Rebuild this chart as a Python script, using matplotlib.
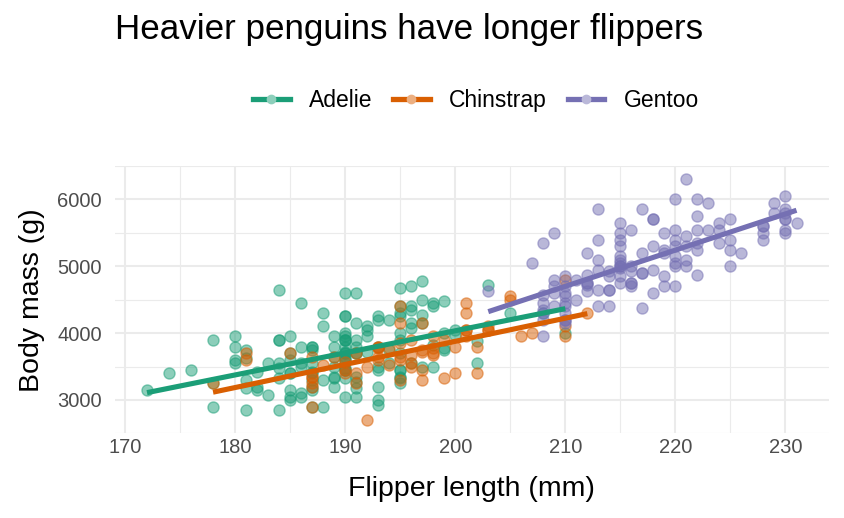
import numpy as np
import matplotlib
matplotlib.use("Agg")
import matplotlib.pyplot as plt
from matplotlib.lines import Line2D
from matplotlib.colors import to_rgb

plt.rcParams['font.family'] = ['Liberation Sans', 'DejaVu Sans']

species = ["Adelie", "Chinstrap", "Gentoo"]
colors = ["#1B9E77", "#D95F02", "#7570B3"]

adelie_flipper = [181,186,195,193,190,181,195,182,191,198,185,195,197,184,194,174,
                  180,189,185,180,187,183,187,172,180,178,178,188,184,195,196,190,180,181,184,182,
                  195,186,196,185,190,182,190,191,186,188,190,200,187,191,186,193,181,194,185,
                  195,185,192,184,192,195,188,190,198,190,190,196,197,190,195,191,184,187,195,189,
                  196,187,193,191,194,190,189,189,190,202,205,185,186,187,208,190,196,178,192,192,
                  203,183,190,193,184,199,190,181,197,198,191,193,197,191,196,188,199,189,189,187,
                  198,176,202,186,199,191,195,191,210,190,197,193,199,187,190,191,200,185,193,187,
                  190,185,190,193,189,190,184,195,187,195,190]
adelie_mass = [3750,3800,3250,3450,3650,3625,4675,3200,3800,4400,3700,3450,4500,3325,4200,3400,
               3600,3800,3950,3800,3800,3550,3200,3150,3950,3250,3900,3300,3900,3325,4150,3950,3550,3300,4650,3150,
               3900,3100,4400,3000,4600,3425,3450,4150,3500,4300,3450,4050,2900,3700,3550,3800,2850,3750,3150,
               4400,3600,4050,2850,3950,3350,4100,3050,4450,3600,3900,3550,4150,3700,4250,3700,3900,3550,4000,3200,
               4700,3800,4200,3350,3550,3800,3500,3950,3600,3550,4300,3400,4450,3300,4300,3700,4350,2900,4100,3725,
               4725,3075,4250,2925,3550,3750,3900,3175,4775,3825,4600,3200,4275,3900,4075,2900,3775,3350,3325,3150,
               3500,3450,3875,3050,4000,3275,4300,3050,4000,3325,3500,3500,4475,3425,3900,3175,3975,3400,4250,3400,
               3475,3050,3725,3000,3650,4250,3475,3450,3750,3700,4000]

chinstrap_flipper = [192,196,193,188,197,198,178,197,195,198,193,194,185,201,190,201,197,181,190,195,
                     181,191,187,193,195,197,200,200,191,205,187,201,187,203,195,199,195,210,192,205,
                     210,187,196,196,196,201,190,212,187,198,199,201,193,203,187,197,191,203,202,194,
                     206,189,195,207,202,193,210,198]
chinstrap_mass = [3500,3900,3650,3525,3725,3950,3250,3750,4150,3700,3800,3775,3700,4050,3575,4050,3300,3700,3450,4400,
                  3600,3400,2900,3800,3300,4150,3400,3800,3700,4550,3200,4300,3350,4100,3600,3900,3850,4800,2700,4500,
                  3950,3650,3550,3500,3675,4450,3400,4300,3250,3675,3325,3950,3600,4050,3350,3450,3250,4050,3800,3525,
                  3950,3650,3650,4000,3400,3775,4100,3775]

gentoo_flipper = [211,230,210,218,215,210,211,219,209,215,214,216,214,213,210,217,210,221,209,222,
                  218,215,213,215,215,215,215,210,220,222,209,207,230,220,220,213,219,208,208,
                  208,225,210,216,222,217,210,225,213,215,210,220,210,225,217,220,208,220,208,224,
                  208,221,214,231,219,230,229,220,223,216,221,221,217,216,230,209,220,215,223,
                  212,221,212,224,212,228,218,218,212,230,218,228,212,224,214,226,216,222,203,225,
                  219,228,215,228,215,210,219,208,209,216,229,213,230,217,230,222,214,215,
                  222,212,213]
gentoo_mass = [4500,5700,4450,5700,5400,4550,4800,5200,4400,5150,4650,5550,4650,5850,4200,5850,4150,6300,4800,5350,
               5700,5000,4400,5050,5000,5100,5650,4600,5550,5250,4700,5050,6050,5150,5400,4950,5250,4350,5350,
               3950,5700,4300,4750,5550,4900,4200,5400,5100,5300,4850,5300,4400,5000,4900,5050,4300,5000,4450,5550,
               4200,5300,4400,5650,4700,5700,5800,4700,5550,4750,5000,5100,5200,4700,5800,4600,6000,4750,5950,
               4625,5450,4725,5350,4750,5600,4600,5300,4875,5550,4950,5400,4750,5650,4850,5200,4925,4875,4625,5250,
               4850,5600,4975,5500,5500,4700,5500,4575,5500,5000,5950,4650,5500,4375,5850,6000,4925,4850,
               5750,5200,5400]

x_ticks = [170, 180, 190, 200, 210, 220, 230]
y_ticks = [3000, 4000, 5000, 6000]

data = [(adelie_flipper, adelie_mass), (chinstrap_flipper, chinstrap_mass), (gentoo_flipper, gentoo_mass)]

fig = plt.figure(figsize=(8.44, 5.18), dpi=100)
ax = fig.add_axes([0.1357, 0.1633, 0.9822 - 0.1357, 0.6795 - 0.1633])

for (fx, my), c in zip(data, colors):
    fx = np.array(fx, float); my = np.array(my, float)
    ax.scatter(fx, my, s=64, color=c, alpha=0.5, edgecolors=c, linewidths=1.0, zorder=3)
for (fx, my), c in zip(data, colors):
    fx = np.array(fx, float); my = np.array(my, float)
    b, a = np.polyfit(fx, my, 1)
    xs = np.array([fx.min(), fx.max()])
    ax.plot(xs, a + b * xs, color=c, lw=3.7, solid_capstyle='butt', zorder=4)

allx = np.concatenate([np.array(d[0]) for d in data])
ally = np.concatenate([np.array(d[1]) for d in data])
xr = allx.max() - allx.min(); yr = ally.max() - ally.min()
ax.set_xlim(allx.min() - 0.05 * xr, allx.max() + 0.05 * xr)
ax.set_ylim(ally.min() - 0.05 * yr, ally.max() + 0.05 * yr)

ax.set_xticks(x_ticks)
ax.set_yticks(y_ticks)
ax.set_xticks([175, 185, 195, 205, 215, 225], minor=True)
ax.set_yticks([2500, 3500, 4500, 5500, 6500], minor=True)
ax.grid(True, which='major', color='#EBEBEB', lw=1.5)
ax.grid(True, which='minor', color='#EBEBEB', lw=0.8)
ax.set_axisbelow(True)
for s in ax.spines.values():
    s.set_visible(False)
ax.tick_params(which='both', length=0, labelsize=14.5, labelcolor='#4D4D4D')
ax.tick_params(axis='x', pad=3)
ax.tick_params(axis='y', pad=9)
ax.set_xlabel("Flipper length (mm)", fontsize=20.5, labelpad=14)
ax.set_ylabel("Body mass (g)", fontsize=20.5, labelpad=9)

fig.text(115 / 844, 1 - 29 / 518, "Heavier penguins have longer flippers", fontsize=25.2,
         ha='left', va='center')

handles = []
for c in colors:
    light = tuple(0.5 * np.array(to_rgb(c)) + 0.5)
    handles.append(Line2D([], [], color=c, lw=3.8, marker='o', markersize=6,
                          markerfacecolor=light, markeredgecolor=light))
fig.legend(handles, species, loc='center', bbox_to_anchor=(476 / 844, 1 - 101 / 518), ncol=3,
           frameon=False, fontsize=16.5, handlelength=1.6, columnspacing=0.9, handletextpad=0.85)

fig.savefig("out.png", dpi=100)
